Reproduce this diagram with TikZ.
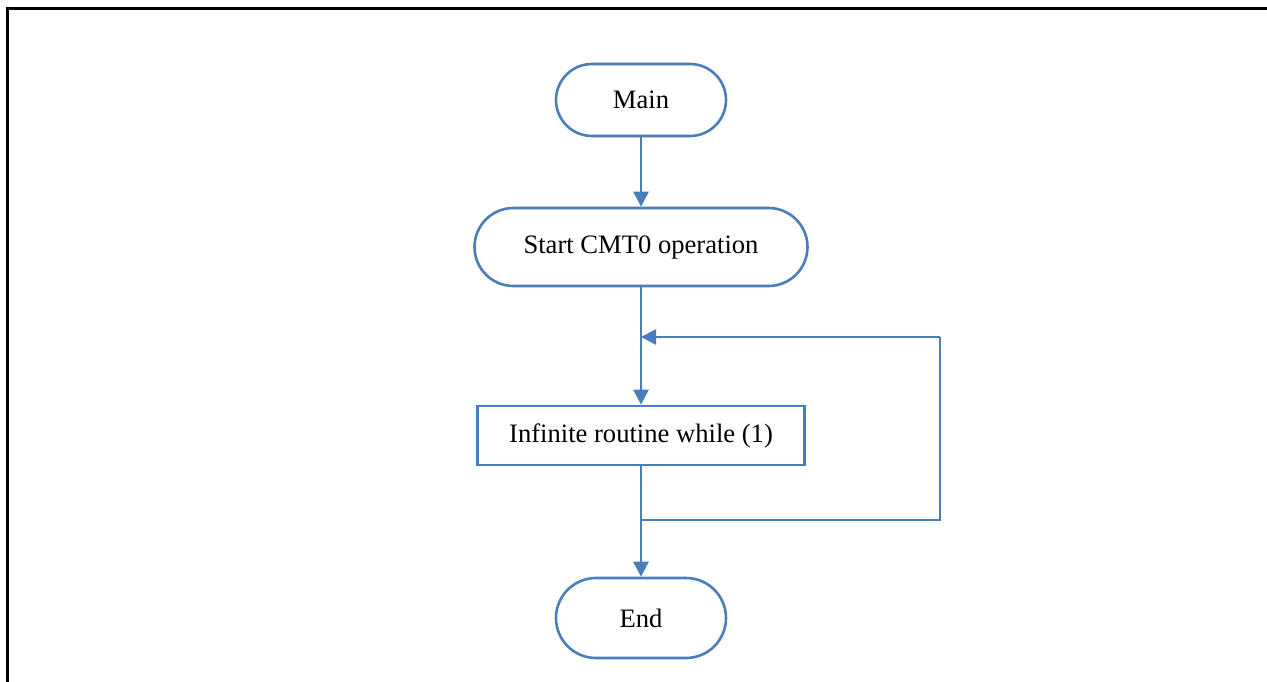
\documentclass[tikz,border=0pt]{standalone}
\usepackage{fontspec}
\setmainfont{Liberation Serif}
\usetikzlibrary{shapes.misc,arrows.meta}
\definecolor{flowblue}{RGB}{74,126,187}
\tikzset{
  terminal/.style={rounded rectangle, draw=flowblue, line width=2.6pt, inner sep=0pt, font=\fontsize{26.6}{32}\selectfont},
  procbox/.style={rectangle, draw=flowblue, line width=2.6pt, inner sep=0pt, minimum width=327pt, minimum height=59pt, font=\fontsize{26.6}{32}\selectfont},
  flow/.style={draw=flowblue, line width=2.6pt, -{Triangle[length=15pt,width=15pt]}},
  plain/.style={draw=flowblue, line width=2.6pt}
}
\begin{document}
\begin{tikzpicture}[x=1pt,y=-1pt]
\useasboundingbox (0,0) rectangle (1267,682);
\draw[black, line width=3pt] (7.5,682) -- (7.5,9) -- (1267,9);
\node[terminal, minimum width=170pt, minimum height=72pt] (main) at (641,100) {Main};
\node[terminal, minimum width=333pt, minimum height=78pt] (start) at (641,247) {Start CMT0 operation};
\node[procbox] (loop) at (641,435.5) {Infinite routine while (1)};
\node[terminal, minimum width=170pt, minimum height=80pt] (end) at (641,618) {End};
\coordinate (j) at (641,520);
\coordinate (r1) at (940,520);
\coordinate (r2) at (940,337);
\coordinate (k) at (641,337);
\draw[flow] (main.south) -- (start.north);
\draw[flow] (start.south) -- (loop.north);
\draw[flow] (loop.south) -- (end.north);
\draw[plain] (j) -- (r1) -- (r2);
\draw[flow] (r2) -- (k);
\end{tikzpicture}
\end{document}
